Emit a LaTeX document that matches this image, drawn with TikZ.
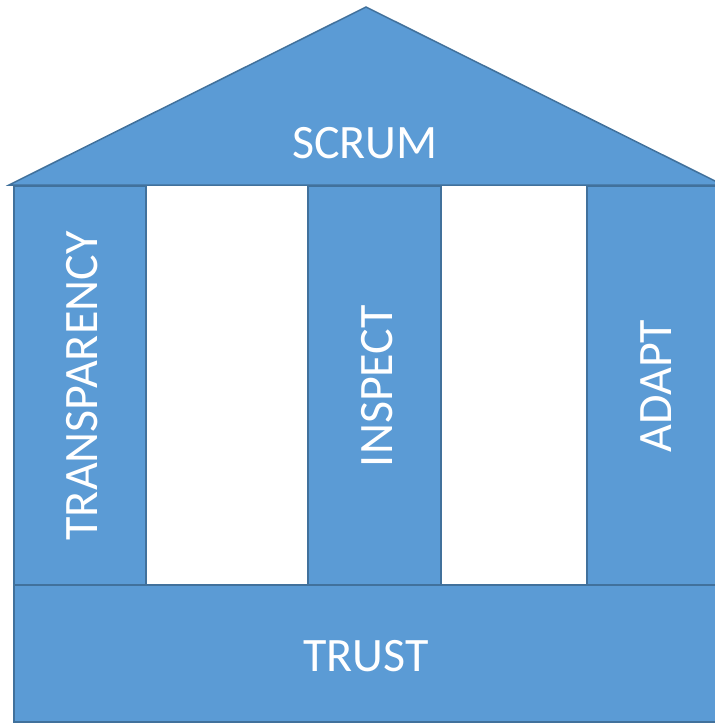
\documentclass[tikz,border=0pt]{standalone}
\usepackage{fontspec}
\setmainfont{Carlito}
\definecolor{fillblue}{HTML}{5B9BD5}
\definecolor{edgeblue}{HTML}{41719C}
\begin{document}
\begin{tikzpicture}[x=1pt,y=-1pt,
  part/.style={fill=fillblue,draw=edgeblue,line width=1.5pt},
  lbl/.style={text=white,font=\fontsize{48}{48}\selectfont,inner sep=0pt}]
\useasboundingbox (0,0) rectangle (715,724);
\clip (0,0) rectangle (715,724);
\path[part] (14,186) rectangle (146,585);
\path[part] (308,186) rectangle (441,585);
\path[part] (587,186) rectangle (730,585);
\path[part] (9,185) -- (366,7) -- (723,185) -- cycle;
\path[part] (14,585) rectangle (730,722);
\node[lbl] (scrum) at (365,143) {SCRUM};
\node[lbl,rotate=90] (transp) at (82,386) {TRANSPARENCY};
\node[lbl,rotate=90] (inspect) at (377,386) {INSPECT};
\node[lbl,rotate=90] (adapt) at (656,386) {ADAPT};
\node[lbl] (trust) at (366,656) {TRUST};
\end{tikzpicture}
\end{document}
